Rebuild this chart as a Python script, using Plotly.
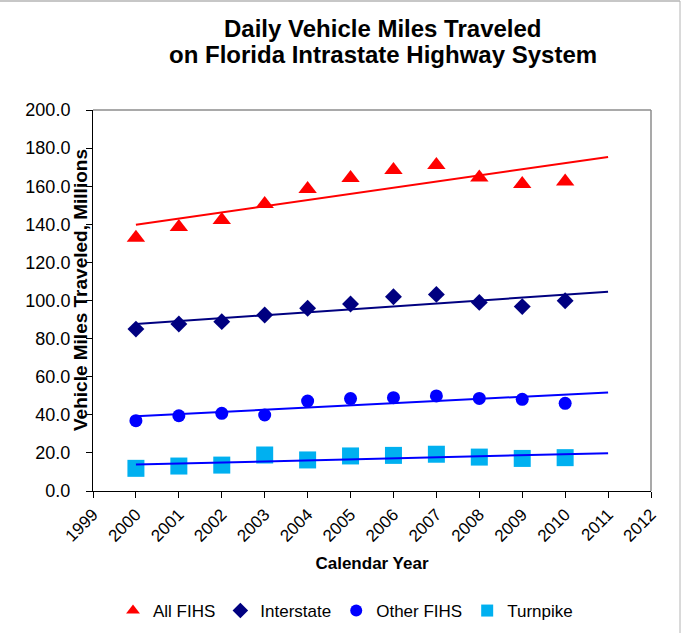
import numpy as np
import plotly.graph_objects as go

# ── Data (millions of daily VMT) ─────────────────────────────────────────────
years = [2000, 2001, 2002, 2003, 2004, 2005, 2006, 2007, 2008, 2009, 2010]
all_fihs   = [133.0, 138.6, 142.3, 150.7, 158.5, 164.3, 168.5, 171.1, 164.6, 161.2, 162.5]
interstate = [85.0, 87.7, 88.9, 92.4, 95.9, 98.2, 102.0, 103.2, 99.0, 96.8, 99.9]
other_fihs = [36.9, 39.5, 40.8, 39.9, 47.2, 48.5, 49.0, 49.9, 48.6, 48.1, 46.0]
turnpike   = [11.9, 13.1, 13.6, 18.9, 16.3, 18.4, 18.7, 19.3, 17.8, 17.1, 17.5]
trend_years = [2000, 2011]   # linear trendline, forecast one year forward

# ── Style ────────────────────────────────────────────────────────────────────
_FONT = 'Liberation Sans, Arial, sans-serif'
_RED = '#FF0000'
_NAVY = '#000080'
_BLUE = '#0000FF'
_CYAN = '#00B0F0'
_FRAME = '#8c8c8c'

# plot area in pixels (682 x 634 page)
L, R, T, B = 93, 31, 110, 143
PW, PH = 682 - L - R, 634 - T - B


def px_x(x):
    return (x - L) / PW


def px_y(y):
    return (634 - B - y) / PH


series = [
    ('All FIHS', all_fihs, _RED, 'triangle-up', 16, _RED),
    ('Interstate', interstate, _NAVY, 'diamond', 13, _NAVY),
    ('Other FIHS', other_fihs, _BLUE, 'circle', 13, _BLUE),
    ('Turnpike', turnpike, _CYAN, 'square', 17, _BLUE),
]

fig = go.Figure()

for name, vals, color, symbol, size, _ in series:
    fig.add_trace(go.Scatter(
        x=years, y=vals, mode='markers', name=name,
        marker=dict(symbol=symbol, size=size, color=color, line=dict(width=0)),
    ))

# trendlines drawn over the markers, as in the original
for name, vals, _, _, _, tcolor in series:
    slope, icept = np.polyfit(years, vals, 1)
    fig.add_trace(go.Scatter(
        x=trend_years, y=[slope * t + icept for t in trend_years],
        mode='lines', line=dict(color=tcolor, width=2),
        showlegend=False, hoverinfo='skip',
    ))

fig.update_xaxes(
    range=[1999, 2012], dtick=1, tick0=1999,
    showline=True, linecolor='black', linewidth=1,
    ticks='outside', ticklen=6, tickcolor='black',
    tickangle=-45, tickfont=dict(size=17, color='black'),
    showgrid=False, zeroline=False, automargin=False,
    title=dict(text='<b>Calendar Year</b>', font=dict(size=17, color='black'), standoff=12),
)
fig.update_yaxes(
    range=[0, 200], dtick=20, tickformat='.1f',
    showline=True, linecolor='black', linewidth=1,
    ticks='outside', ticklen=6, tickcolor='black',
    tickfont=dict(size=18, color='black'), ticklabelstandoff=12,
    showgrid=False, zeroline=False, automargin=False,
)

shapes = [
    # grey plot-area border on top and right
    dict(type='line', xref='paper', yref='paper', x0=0, x1=1, y0=1, y1=1,
         line=dict(color=_FRAME, width=1.5)),
    dict(type='line', xref='paper', yref='paper', x0=1, x1=1, y0=0, y1=1,
         line=dict(color=_FRAME, width=1.5)),
    # outer chart frame (top and right edges visible)
    dict(type='line', xref='paper', yref='paper', x0=px_x(0), x1=px_x(680),
         y0=px_y(1), y1=px_y(1), line=dict(color='#b4b4b4', width=1.5)),
    dict(type='line', xref='paper', yref='paper', x0=px_x(680), x1=px_x(680),
         y0=px_y(1), y1=px_y(633), line=dict(color='#b4b4b4', width=1)),
]

annotations = [
    dict(text='<b>Daily Vehicle Miles Traveled</b>', x=px_x(383), y=px_y(29),
         xref='paper', yref='paper', showarrow=False, xanchor='center', yanchor='middle',
         font=dict(size=24, color='black')),
    dict(text='<b>on Florida Intrastate Highway System</b>', x=px_x(383), y=px_y(55),
         xref='paper', yref='paper', showarrow=False, xanchor='center', yanchor='middle',
         font=dict(size=24, color='black')),
    dict(text='<b>Vehicle Miles Traveled, Millions</b>', x=px_x(80), y=px_y(290),
         xref='paper', yref='paper', showarrow=False, xanchor='center', yanchor='middle',
         textangle=-90, font=dict(size=19, color='black')),
]

fig.update_layout(
    width=682, height=634,
    margin=dict(l=L, r=R, t=T, b=B, autoexpand=False),
    paper_bgcolor='white', plot_bgcolor='white',
    font=dict(family=_FONT, color='black'),
    shapes=shapes, annotations=annotations,
    legend=dict(
        orientation='h', x=px_x(113), y=px_y(611),
        xanchor='left', yanchor='middle',
        font=dict(size=17, color='black'),
        itemsizing='constant', bgcolor='rgba(0,0,0,0)',
    ),
)

# drop the browser's default 8px body margin so the figure sits at (0, 0)
fig.write_html('out.html', config={'displayModeBar': False},
               post_script="document.body.style.margin = '0';")
